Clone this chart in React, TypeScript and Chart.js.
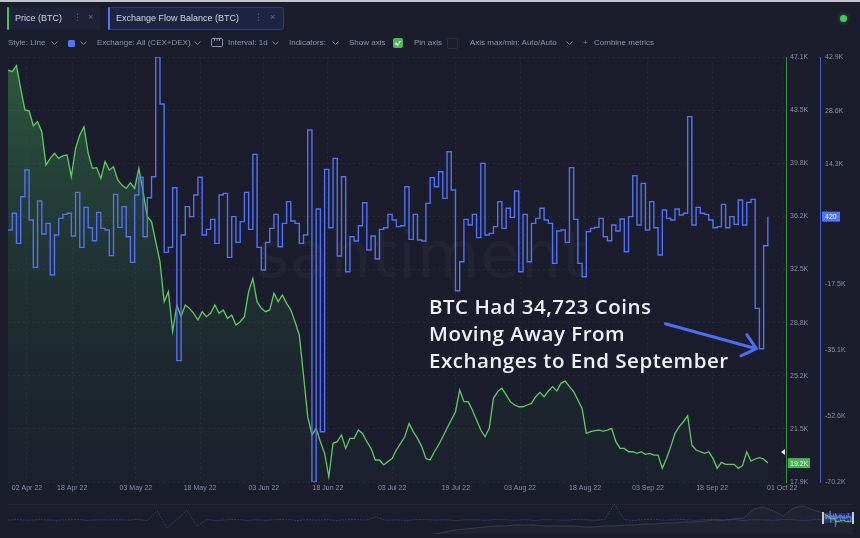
import React, { useEffect, useRef } from 'react';
import { Chart, registerables } from 'chart.js';

Chart.register(...registerables);

// ---------- DATA ----------
// Daily BTC price (thousands USD), starting 02 Apr 2022
const priceK = [
  46.2, 46.09, 46.5, 44.95, 43.46, 43.4, 42.38, 42.66, 41.97, 39.68,
  40.14, 40.48, 40.14, 40.3, 40.37, 38.88, 40.82, 41.74, 42.31, 40.48,
  39.45, 39.5, 38.76, 39.91, 39.34, 39.56, 38.65, 38.3, 38.07, 38.46,
  38.07, 39.45, 37.85, 36.13, 35.79, 34.41, 33.04, 30.29, 30.98, 28.23,
  30.06, 29.26, 30.06, 29.83, 29.49, 29.03, 29.6, 29.26, 29.49, 30.06,
  29.49, 29.72, 29.14, 29.37, 28.69, 28.91, 29.26, 30.98, 31.89, 30.29,
  29.83, 29.6, 29.72, 30.86, 30.29, 30.75, 30.17, 29.72, 28.9, 28.0,
  25.25, 22.39, 21.13, 21.59, 20.67, 19.87, 18.26, 20.56, 20.67, 21.13,
  20.21, 20.9, 20.9, 21.47, 21.24, 20.67, 20.21, 19.41, 19.41, 19.07,
  19.3, 19.52, 20.1, 20.56, 21.01, 21.93, 21.36, 20.9, 20.33, 19.52,
  19.41, 19.98, 20.44, 21.01, 21.59, 22.16, 22.73, 24.22, 23.42, 23.42,
  22.85, 22.16, 21.47, 21.01, 21.59, 23.65, 24.11, 24.34, 23.88, 23.42,
  23.19, 23.07, 23.07, 23.19, 23.3, 23.76, 24.06, 23.76, 24.15, 24.45,
  24.15, 24.68, 24.84, 24.45, 24.11, 23.53, 22.96, 21.24, 21.36, 21.43,
  21.47, 21.4, 21.47, 21.59, 20.67, 20.21, 20.21, 19.98, 19.98, 19.87,
  19.98, 19.8, 19.87, 19.75, 19.75, 18.84, 19.52, 20.33, 21.24, 21.7,
  22.04, 22.46, 20.44, 20.1, 19.98, 19.87, 19.98, 19.52, 18.84, 19.25,
  19.11, 19.11, 19.11, 18.84, 19.02, 19.98, 19.34, 19.48, 19.57, 19.48,
  19.2,
];

// Daily exchange flow balance (thousands BTC)
const flowK = [
  -3.14, 1.3, -6.69, 5.73, 12.83, -0.48, -13.08, 4.58, -4.21, -1.37,
  -15.12, -4.47, -0.04, 1.03, 1.3, -4.74, 6.88, -7.75, 2.89, -2.52,
  -5.98, 1.56, -2.7, -3.14, -9.97, 6.35, -2.43, 3.07, -4.92, -11.75,
  6.17, 10.88, -4.92, 5.46, 11.05, 42.9, 30.39, -9.08, -7.75, 8.12,
  -37.91, -4.47, 3.07, 0.41, 6.17, 10.88, -4.47, -2.96, -0.3, -6.69,
  6.17, 6.62, -10.42, 0.41, -6.43, -0.92, 6.88, -2.96, 17.0, -7.75,
  -13.79, -6.43, -2.7, 1.03, -7.58, -1.37, 4.4, -0.75, -1.37, -6.69,
  -4.47, 23.47, -70.2, 2.45, -56.81, 13.0, -2.52, 15.93, -10.06, 11.05,
  -14.23, -4.92, -6.07, -1.99, 4.13, -8.46, -4.74, -10.86, -2.96, -2.52,
  1.03, -0.48, -2.25, -1.99, 8.39, -5.63, 1.03, -5.8, -6.07, 3.96,
  10.79, 8.39, 12.38, 5.29, 17.7, 7.5, -19.29, -11.57, -0.3, -1.81,
  1.03, -5.18, 14.6, -4.47, -4.03, -2.25, 4.4, -2.7, 2.63, 0.23,
  7.24, -14.23, 1.03, -11.57, -1.37, -0.04, 2.63, -0.48, -1.37, -12.01,
  -3.41, -3.14, -6.43, 13.45, -0.3, -12.01, -15.56, -3.58, -2.7, -2.43,
  -0.04, -4.92, -5.98, -1.81, -3.41, -0.21, -8.91, 0.41, 11.32, -1.81,
  9.28, -3.14, 4.4, -2.52, -9.79, 2.18, -0.04, -0.48, 2.45, 0.85,
  1.3, 27.02, -1.81, 2.89, 1.3, 1.03, -0.48, -2.52, -2.25, 3.69,
  -2.52, 0.41, -1.63, 4.84, -1.81, 4.22, 5.02, -23.99, -34.723, -7.31,
  0.42,
];

const xTickLabels = [
  '02 Apr 22', '18 Apr 22', '03 May 22', '18 May 22', '03 Jun 22', '18 Jun 22', '03 Jul 22',
  '19 Jul 22', '03 Aug 22', '18 Aug 22', '03 Sep 22', '18 Sep 22', '01 Oct 22',
];
const xTickDays = [5.5, 16.2, 31.3, 46.5, 61.6, 76.8, 92, 107.1, 122.3, 137.7, 152.6, 167.8, 184.4];

const priceTickValues = [17.9, 21.55, 25.2, 28.85, 32.5, 36.15, 39.8, 43.45, 47.1];
const priceTickLabels = ['17.9K', '21.5K', '25.2K', '28.8K', '32.5K', '36.2K', '39.8K', '43.5K', '47.1K'];
const flowTickValues = [-70.2, -52.65, -35.1, -17.55, 14.3, 28.6, 42.9];
const flowTickLabels = ['-70.2K', '-52.6K', '-35.1K', '-17.5K', '14.3K', '28.6K', '42.9K'];

const markerPrice = 19.96;
const arrowDay = 179;

// Navigator (long history, faint)
const navFlow = [
  0, 0.3, -0.2, 0.4, 0, -0.3, 0.2, 0.5, -0.4, 0.2, 0, 0.3, -0.2, 0.6, -0.5, 9, -8, 0.4, 10, -6,
  0.5, -0.8, 0.3, 0.6, -0.4, 0.2, -0.3, 0.4, 0.8, -0.6, 0.3, -0.2, 0.4, -0.5, 0.2, 0.6, -0.3, 3, -0.4, 0.2,
  -0.5, 0.3, 0.6, -0.2, 0.4, -0.6, 0.2, 0.3, -0.4, 0.5, 0.2, -0.3, 0.4, -0.5, 0.3, 0.2, -0.4, 0.5, 0.3, -0.2,
  0.4, 16, 0.2, -0.5, 0.4, 0.8, -0.3, 0.2, 0.5, -0.4, 0.3, 0.6, -0.2, 0.4, -0.5, 0.3, 0.2, -0.4, 0.6, 0.3,
  -0.5, 0.2, 0.4, -0.3, 0.2, 0.1,
];
const navPrice = [
  -16, -16, -16, -16, -16, -16, -16, -16, -16, -16, -16, -16, -16, -16, -16, -16, -16, -16, -16, -16,
  -16, -16, -16, -16, -16, -16, -16, -16, -16, -16, -16, -16, -16, -16, -16, -16, -16, -16, -16, -16,
  -16, -16, -15, -14, -12, -10, -9, -8, -7, -6, -6, -5, -5, -5, -6, -6, -6, -6, -7, -7,
  -6, -6, -5, -5, -4, -4, -3, -3, -2, -2, -1, 0, 0, 1, 2, 11, 13, 9, 4, 12,
  14, 10, 7, 4, 3, 3,
];

// ---------- STYLE ----------
const BG = '#1b1d2c';
const GREEN = '#5fcc64';
const BLUE = '#5472f2';
const TICK = '#8a8fa5';
const FONT = '"Liberation Sans", Arial, sans-serif';

const Chev = ({ x, y = 41 }: { x: number; y?: number }) => (
  <svg style={{ position: 'absolute', left: x, top: y }} width={7} height={5}>
    <polyline points="0.5,0.5 3.5,3.5 6.5,0.5" fill="none" stroke="#7f849b" strokeWidth={1} />
  </svg>
);

const T = ({ x, children, color = '#8e93a9' }: { x: number; children: React.ReactNode; color?: string }) => (
  <div style={{ position: 'absolute', left: x, top: 38, fontSize: 8, lineHeight: '10px', color, whiteSpace: 'nowrap' }}>
    {children}
  </div>
);

export default function App() {
  const mainRef = useRef<HTMLCanvasElement | null>(null);
  const navRef = useRef<HTMLCanvasElement | null>(null);

  useEffect(() => {
    document.body.style.margin = '0';
    document.body.style.background = BG;
    const days = priceK.map((_, i) => i + 1);
    const pricePts = priceK.map((v, i) => ({ x: days[i], y: v }));
    const flowPts = flowK.map((v, i) => ({ x: days[i], y: v }));

    const overlay = {
      id: 'overlay',
      afterDatasetsDraw(chart: any) {
        const { ctx, scales } = chart;
        const xs = scales.x;
        const yf = scales.yFlow;
        const tipX = xs.getPixelForValue(arrowDay) - 3;
        const tipY = yf.getPixelForValue(flowK[arrowDay - 1]);
        const tailX = tipX - 91;
        const tailY = tipY - 25;
        const ang = Math.atan2(tipY - tailY, tipX - tailX);
        ctx.save();
        ctx.strokeStyle = '#4f6cf5';
        ctx.lineWidth = 3;
        ctx.lineCap = 'round';
        ctx.lineJoin = 'round';
        ctx.beginPath();
        ctx.moveTo(tailX, tailY);
        ctx.lineTo(tipX, tipY);
        const L = 17;
        const a1 = ang + Math.PI - 0.7;
        const a2 = ang + Math.PI + 0.7;
        ctx.moveTo(tipX + L * Math.cos(a1), tipY + L * Math.sin(a1));
        ctx.lineTo(tipX, tipY);
        ctx.lineTo(tipX + L * Math.cos(a2), tipY + L * Math.sin(a2));
        ctx.stroke();
        ctx.restore();
      },
      afterDraw(chart: any) {
        const { ctx, scales, chartArea } = chart;
        const yp = scales.yPrice;
        const yf = scales.yFlow;
        ctx.save();
        const my = yp.getPixelForValue(markerPrice);
        ctx.fillStyle = '#e8eaf2';
        ctx.beginPath();
        ctx.moveTo(chartArea.right - 5, my);
        ctx.lineTo(chartArea.right - 1, my - 3);
        ctx.lineTo(chartArea.right - 1, my + 3);
        ctx.closePath();
        ctx.fill();
        const lastP = priceK[priceK.length - 1];
        const py = yp.getPixelForValue(lastP);
        ctx.fillStyle = '#45b54f';
        ctx.fillRect(yp.left + 2, py - 5, 22, 10);
        ctx.fillStyle = '#e9f7ea';
        ctx.font = `7px ${FONT}`;
        ctx.textBaseline = 'middle';
        ctx.textAlign = 'left';
        ctx.fillText(lastP.toFixed(1) + 'K', yp.left + 4, py + 0.5);
        const lastF = flowK[flowK.length - 1];
        const fy = yf.getPixelForValue(lastF);
        ctx.fillStyle = '#5275ff';
        ctx.fillRect(yf.left + 2, fy - 5, 18, 10);
        ctx.fillStyle = '#ffffff';
        ctx.fillText(String(Math.round(lastF * 1000)), yf.left + 5, fy + 0.5);
        ctx.restore();
      },
    };

    const main = new Chart(mainRef.current as HTMLCanvasElement, {
      type: 'line',
      data: {
        datasets: [
          {
            label: 'Exchange Flow Balance (BTC)',
            data: flowPts,
            yAxisID: 'yFlow',
            borderColor: BLUE,
            borderWidth: 1.4,
            stepped: true,
            pointRadius: 0,
            fill: false,
            order: 0,
          },
          {
            label: 'Price (BTC)',
            data: pricePts,
            yAxisID: 'yPrice',
            borderColor: GREEN,
            borderWidth: 1.3,
            pointRadius: 0,
            tension: 0,
            fill: 'start',
            order: 1,
            backgroundColor: (c: any) => {
              const ca = c.chart.chartArea;
              if (!ca) return 'rgba(0,0,0,0)';
              const g = c.chart.ctx.createLinearGradient(0, ca.top, 0, ca.bottom);
              g.addColorStop(0, 'rgba(70,175,90,0.42)');
              g.addColorStop(0.5, 'rgba(55,135,80,0.2)');
              g.addColorStop(1, 'rgba(40,90,60,0.07)');
              return g;
            },
          },
        ],
      },
      options: {
        responsive: false,
        animation: false,
        layout: { padding: { left: 8, top: 57, right: 0, bottom: 2 } },
        plugins: { legend: { display: false }, tooltip: { enabled: false } },
        scales: {
          x: {
            type: 'linear',
            min: 1,
            max: 185.3,
            afterBuildTicks: (s: any) => {
              s.ticks = xTickDays.map((v) => ({ value: v }));
            },
            afterFit: (s: any) => {
              s.height = 16;
            },
            ticks: {
              callback: (_v: any, i: number) => xTickLabels[i],
              autoSkip: false,
              maxRotation: 0,
              color: TICK,
              font: { family: FONT, size: 7 },
              padding: 2,
            },
            grid: { color: 'rgba(255,255,255,0.05)', drawTicks: false },
            border: { display: false, dash: [2, 3] },
          },
          yPrice: {
            position: 'right',
            weight: 0,
            min: 17.9,
            max: 47.1,
            afterBuildTicks: (s: any) => {
              s.ticks = priceTickValues.map((v) => ({ value: v }));
            },
            afterFit: (s: any) => {
              s.width = 34;
            },
            ticks: {
              callback: (_v: any, i: number) => priceTickLabels[i],
              color: TICK,
              font: { family: FONT, size: 7 },
              padding: 4,
            },
            grid: { color: 'rgba(255,255,255,0.06)', drawTicks: false },
            border: { color: '#3d8f48', width: 1, dash: [2, 3] },
          },
          yFlow: {
            position: 'right',
            weight: 1,
            min: -70.2,
            max: 42.9,
            afterBuildTicks: (s: any) => {
              s.ticks = flowTickValues.map((v) => ({ value: v }));
            },
            afterFit: (s: any) => {
              s.width = 40;
            },
            ticks: {
              callback: (_v: any, i: number) => flowTickLabels[i],
              color: TICK,
              font: { family: FONT, size: 7 },
              padding: 5,
            },
            grid: { display: false, drawTicks: false },
            border: { color: '#4a60c8', width: 1 },
          },
        },
      },
      plugins: [overlay],
    } as any);

    const navIdx = navFlow.map((_, i) => i);
    const navBox = {
      id: 'navBox',
      beforeDatasetsDraw(chart: any) {
        const { ctx, scales } = chart;
        const x0 = scales.xm.getPixelForValue(days[0]) - 2;
        const x1 = scales.xm.getPixelForValue(days[days.length - 1]) + 2;
        const y0 = scales.ym.getPixelForValue(47.1) - 1;
        const y1 = scales.ym.getPixelForValue(17.9) + 1;
        ctx.save();
        ctx.fillStyle = 'rgba(140,150,200,0.16)';
        ctx.fillRect(x0, y0, x1 - x0, y1 - y0);
        ctx.restore();
      },
      afterDatasetsDraw(chart: any) {
        const { ctx, scales } = chart;
        const x0 = scales.xm.getPixelForValue(days[0]) - 2;
        const x1 = scales.xm.getPixelForValue(days[days.length - 1]) + 2;
        const y0 = scales.ym.getPixelForValue(47.1) - 2;
        const y1 = scales.ym.getPixelForValue(17.9) + 2;
        ctx.save();
        ctx.fillStyle = '#c8cce0';
        ctx.fillRect(x0 - 1, y0, 2, y1 - y0);
        ctx.fillRect(x1 - 1, y0, 2, y1 - y0);
        ctx.restore();
      },
    };

    const nav = new Chart(navRef.current as HTMLCanvasElement, {
      type: 'line',
      data: {
        datasets: [
          {
            data: navPrice.map((v, i) => ({ x: navIdx[i], y: v })),
            xAxisID: 'x',
            yAxisID: 'y',
            borderColor: 'rgba(125,130,155,0.28)',
            borderWidth: 1,
            pointRadius: 0,
            fill: 'start',
            backgroundColor: 'rgba(115,120,145,0.07)',
          },
          {
            data: navFlow.map((v, i) => ({ x: navIdx[i], y: v })),
            xAxisID: 'x',
            yAxisID: 'y',
            borderColor: 'rgba(85,105,175,0.42)',
            borderWidth: 1,
            borderDash: [2, 1],
            pointRadius: 0,
            fill: false,
          },
          {
            data: pricePts,
            xAxisID: 'xm',
            yAxisID: 'ym',
            borderColor: GREEN,
            borderWidth: 1,
            pointRadius: 0,
            fill: false,
          },
          {
            data: flowPts,
            xAxisID: 'xm',
            yAxisID: 'yf',
            borderColor: BLUE,
            borderWidth: 1,
            stepped: true,
            pointRadius: 0,
            fill: false,
          },
        ],
      },
      options: {
        responsive: false,
        animation: false,
        layout: { padding: { top: 2, bottom: 4, left: 0, right: 0 } },
        plugins: { legend: { display: false }, tooltip: { enabled: false } },
        scales: {
          x: { type: 'linear', display: false, min: -0.805, max: 85.7 },
          y: { display: false, min: -14, max: 18 },
          xm: { type: 'linear', display: false, min: -5708, max: 243.3 },
          ym: { display: false, min: -25.9, max: 90.9 },
          yf: { display: false, min: -119, max: 105 },
        },
      },
      plugins: [navBox],
    } as any);

    return () => {
      main.destroy();
      nav.destroy();
    };
  }, []);

  return (
    <div
      style={{
        position: 'fixed',
        left: 0,
        top: 0,
        width: 860,
        height: 538,
        background: BG,
        overflow: 'hidden',
        fontFamily: FONT,
      }}
    >
      <div style={{ position: 'absolute', left: 0, top: 0, width: 860, height: 2, background: '#c3c6cf' }} />
      <div
        style={{
          position: 'absolute',
          left: 256,
          top: 218,
          fontSize: 64,
          fontFamily: '"DejaVu Sans", sans-serif',
          color: 'rgba(255,255,255,0.035)',
          letterSpacing: 1,
          whiteSpace: 'nowrap',
        }}
      >
        santiment
      </div>
      <div style={{ position: 'absolute', left: 0, top: 0, width: 860, height: 500 }}>
        <canvas ref={mainRef} width={860} height={500} />
      </div>
      <div style={{ position: 'absolute', left: 8, top: 504, width: 845, height: 0, borderTop: '1px dotted rgba(255,255,255,0.08)' }} />
      <div style={{ position: 'absolute', left: 0, top: 500, width: 860, height: 38 }}>
        <canvas ref={navRef} width={860} height={38} />
      </div>

      {/* tabs */}
      <div style={{ position: 'absolute', left: 7, top: 7, width: 93, height: 23, background: '#202338', borderRadius: 3 }}>
        <div style={{ position: 'absolute', left: 0, top: 0, width: 2, height: 23, background: '#4cc35a', borderRadius: 2 }} />
        <div style={{ position: 'absolute', left: 8, top: 6, fontSize: 9, lineHeight: '11px', color: '#d2d5e0' }}>Price (BTC)</div>
        <div style={{ position: 'absolute', left: 66, top: 5, fontSize: 9, lineHeight: '11px', color: '#5b6078', fontFamily: '"DejaVu Sans"' }}>⋮</div>
        <div style={{ position: 'absolute', left: 81, top: 5, fontSize: 9, lineHeight: '11px', color: '#6c7189' }}>×</div>
      </div>
      <div
        style={{
          position: 'absolute',
          left: 108,
          top: 7,
          width: 174,
          height: 21,
          background: '#1f2442',
          border: '1px solid #2f3b80',
          borderRadius: 3,
        }}
      >
        <div style={{ position: 'absolute', left: -1, top: -1, width: 2, height: 23, background: '#5275ff', borderRadius: 2 }} />
        <div style={{ position: 'absolute', left: 7, top: 5, fontSize: 9, lineHeight: '11px', color: '#d2d5e0', whiteSpace: 'nowrap' }}>
          Exchange Flow Balance (BTC)
        </div>
        <div style={{ position: 'absolute', left: 145, top: 4, fontSize: 9, lineHeight: '11px', color: '#5b6078', fontFamily: '"DejaVu Sans"' }}>⋮</div>
        <div style={{ position: 'absolute', left: 161, top: 4, fontSize: 9, lineHeight: '11px', color: '#6c7189' }}>×</div>
      </div>
      <div style={{ position: 'absolute', left: 840, top: 15, width: 7, height: 7, borderRadius: 4, background: '#47cc55', boxShadow: '0 0 4px rgba(70,200,85,0.6)' }} />

      {/* toolbar */}
      <T x={8}>Style: Line</T>
      <Chev x={51} />
      <div style={{ position: 'absolute', left: 68, top: 40, width: 7, height: 7, borderRadius: 1.5, background: '#5275ff' }} />
      <Chev x={80} />
      <T x={97}>Exchange: All (CEX+DEX)</T>
      <Chev x={194} />
      <svg style={{ position: 'absolute', left: 211, top: 38 }} width={12} height={9}>
        <rect x={0.5} y={0.5} width={11} height={8} fill="none" stroke="#8e93a9" strokeWidth={1} rx={1} />
        <line x1={3.5} y1={0.5} x2={3.5} y2={3} stroke="#8e93a9" />
        <line x1={6} y1={0.5} x2={6} y2={3} stroke="#8e93a9" />
        <line x1={8.5} y1={0.5} x2={8.5} y2={3} stroke="#8e93a9" />
      </svg>
      <T x={228}>Interval: 1d</T>
      <Chev x={272} />
      <T x={289}>Indicators:</T>
      <Chev x={332} />
      <T x={349}>Show axis</T>
      <div style={{ position: 'absolute', left: 393, top: 38, width: 10, height: 10, borderRadius: 2, background: '#4fb85a' }}>
        <svg width={10} height={10} style={{ position: 'absolute', left: 0, top: 0 }}>
          <polyline points="2.5,5 4.3,7 7.5,3" fill="none" stroke="#ffffff" strokeWidth={1.2} />
        </svg>
      </div>
      <T x={414}>Pin axis</T>
      <div style={{ position: 'absolute', left: 447, top: 38, width: 9, height: 9, borderRadius: 2, border: '1px solid #2b2f44' }} />
      <T x={470}>Axis max/min: Auto/Auto</T>
      <Chev x={566} />
      <T x={583}>+</T>
      <T x={594}>Combine metrics</T>

      {/* annotation */}
      <div
        style={{
          position: 'absolute',
          left: 429,
          top: 293,
          fontFamily: '"Open Sans", sans-serif',
          fontWeight: 600,
          fontSize: 20.5,
          letterSpacing: 0.5,
          lineHeight: '27px',
          color: '#f2f3f8',
          whiteSpace: 'nowrap',
        }}
      >
        <div>BTC Had 34,723 Coins</div>
        <div>Moving Away From</div>
        <div>Exchanges to End September</div>
      </div>
    </div>
  );
}
